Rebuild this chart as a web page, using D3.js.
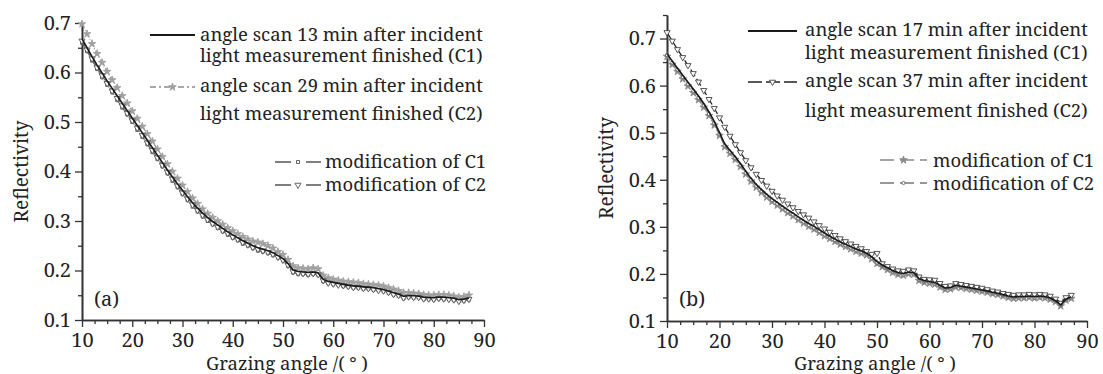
<!DOCTYPE html>
<html>
<head>
<meta charset="utf-8">
<script src="https://cdn.jsdelivr.net/npm/d3@7"></script>
<style>
body { margin: 0; background: #fff; }
svg { display: block; }
text { font-family: "Noto Serif"; fill: #222; }
</style>
</head>
<body>
<svg id="chart" width="1103" height="374"></svg>
<script>
// grazing angles (deg), shared by every series
var angles = [10,11,12,13,14,15,16,17,18,19,20,21,22,23,24,25,26,27,28,29,30,31,32,33,34,35,36,37,38,39,
  40,41,42,43,44,45,46,47,48,49,50,51,52,53,54,55,56,57,58,59,60,61,62,63,64,65,66,67,68,69,
  70,71,72,73,74,75,76,77,78,79,80,81,82,83,84,85,86,87];

// panel (a)
var c1A = [.668,.650,.632,.615,.599,.583,.568,.553,.538,.523,.508,.493,.478,.463,.448,.433,.418,.403,.389,.375,
  .362,.349,.337,.326,.316,.307,.299,.292,.285,.278,.272,.266,.260,.255,.250,.246,.243,.240,.236,.230,
  .224,.214,.201,.198,.197,.196,.197,.195,.182,.178,.176,.174,.172,.170,.169,.168,.167,.166,.165,.163,
  .161,.158,.155,.152,.148,.149,.149,.148,.146,.145,.145,.146,.146,.145,.144,.141,.142,.144];
var c2A = [.698,.678,.658,.638,.620,.602,.585,.569,.553,.538,.522,.507,.491,.476,.461,.445,.430,.415,.400,.386,
  .372,.359,.346,.335,.324,.315,.307,.300,.293,.286,.280,.274,.268,.263,.259,.257,.254,.250,.245,.238,
  .232,.222,.209,.205,.204,.203,.205,.203,.190,.185,.182,.180,.178,.177,.176,.175,.173,.172,.171,.170,
  .168,.165,.162,.159,.155,.155,.154,.153,.151,.150,.150,.151,.151,.150,.148,.146,.147,.150];
var m1A = [.660,.643,.624,.607,.590,.575,.560,.544,.529,.515,.500,.484,.470,.455,.439,.425,.410,.396,.381,.368,
  .354,.342,.329,.319,.309,.300,.293,.286,.279,.272,.266,.261,.254,.250,.245,.240,.238,.235,.231,.226,
  .220,.209,.196,.193,.193,.191,.193,.191,.178,.174,.172,.171,.168,.167,.165,.165,.163,.163,.161,.160,
  .158,.155,.151,.149,.144,.146,.145,.145,.142,.142,.141,.143,.142,.142,.140,.138,.139,.141];
var m2A = [.664,.646,.628,.610,.594,.578,.563,.548,.533,.518,.503,.488,.473,.458,.443,.428,.413,.399,.385,.371,
  .357,.345,.333,.322,.312,.303,.295,.288,.281,.275,.268,.263,.257,.252,.247,.243,.240,.237,.233,.227,
  .221,.211,.198,.195,.194,.193,.194,.192,.180,.175,.173,.171,.170,.168,.166,.166,.164,.164,.162,.160,
  .159,.156,.152,.150,.145,.147,.146,.146,.143,.143,.142,.144,.143,.142,.141,.138,.140,.142];

// panel (b)
var c1B = [.668,.652,.637,.622,.607,.593,.578,.562,.544,.524,.500,.476,.462,.449,.434,.418,.403,.390,.379,.369,
  .360,.352,.344,.336,.329,.321,.314,.307,.301,.294,.287,.280,.274,.268,.263,.258,.253,.249,.244,.236,
  .226,.219,.213,.207,.203,.201,.204,.203,.190,.186,.184,.182,.176,.170,.171,.176,.174,.172,.170,.168,
  .166,.164,.161,.159,.156,.153,.151,.152,.152,.153,.152,.153,.152,.149,.143,.134,.147,.151];
var c2B = [.713,.695,.677,.660,.643,.626,.608,.590,.571,.552,.532,.512,.493,.475,.458,.441,.426,.412,.399,.387,
  .376,.366,.357,.349,.341,.333,.326,.319,.311,.303,.296,.289,.282,.275,.269,.264,.259,.254,.248,.242,
  .244,.222,.216,.211,.207,.206,.209,.207,.194,.189,.188,.187,.180,.174,.175,.180,.178,.176,.174,.172,
  .170,.167,.164,.162,.159,.157,.155,.156,.156,.157,.156,.157,.156,.153,.147,.138,.150,.155];
var m1B = [.662,.645,.630,.614,.599,.585,.570,.554,.536,.516,.494,.470,.456,.443,.428,.412,.397,.384,.373,.363,
  .354,.346,.338,.330,.323,.315,.308,.301,.295,.288,.281,.275,.269,.263,.258,.253,.248,.244,.240,.232,
  .222,.215,.209,.203,.199,.197,.200,.199,.186,.182,.180,.178,.172,.167,.168,.172,.171,.169,.167,.165,
  .163,.161,.158,.156,.153,.150,.148,.149,.149,.150,.149,.150,.149,.146,.141,.132,.144,.148];
var m2B = [.665,.649,.634,.618,.603,.589,.574,.558,.540,.520,.497,.473,.459,.446,.431,.415,.400,.387,.376,.366,
  .357,.349,.341,.333,.326,.318,.311,.304,.298,.291,.284,.278,.272,.266,.261,.256,.251,.247,.242,.234,
  .224,.217,.211,.205,.201,.199,.202,.201,.188,.184,.182,.180,.174,.168,.169,.174,.172,.170,.168,.166,
  .164,.162,.159,.157,.154,.151,.149,.150,.150,.151,.150,.151,.150,.147,.142,.133,.145,.149];

var xMajor = [10,20,30,40,50,60,70,80,90];
var xMinor = [12.5,15,17.5,22.5,25,27.5,32.5,35,37.5,42.5,45,47.5,52.5,55,57.5,62.5,65,67.5,72.5,75,77.5,82.5,85,87.5];
var yMajor = [0.1,0.2,0.3,0.4,0.5,0.6,0.7];
var yMinorA = [0.15,0.25,0.35,0.45,0.55,0.65];
var yMinorB = [0.15,0.25,0.35,0.45,0.55,0.65,0.75];

var legendA = [
  ["angle scan 13 min after incident", "light measurement finished (C1)"],
  ["angle scan 29 min after incident", "light measurement finished (C2)"],
  ["modification of C1"], ["modification of C2"]
];
var legendB = [
  ["angle scan 17 min after incident", "light measurement finished (C1)"],
  ["angle scan 37 min after incident", "light measurement finished (C2)"],
  ["modification of C1"], ["modification of C2"]
];

var FONT = '"Noto Serif"';
var svg = d3.select('#chart');
var fmt = d3.format('.1f');

var STAR = d3.symbol().type(d3.symbolStar).size(18)();
var SQUARE = d3.symbol().type(d3.symbolSquare).size(9)();
var TRI = d3.symbol().type(d3.symbolTriangle).size(16)();
var CIRC = d3.symbol().type(d3.symbolCircle).size(8)();

function drawPanel(o) {
  var x = d3.scaleLinear().domain([10, 90]).range([o.left, o.right]);
  var y = d3.scaleLinear().domain([0.1, o.yMax]).range([o.bottom, o.top]);
  var g = svg.append('g');

  // axes: minor ticks first, then majors with labels
  g.append('g').attr('class', 'ax')
    .attr('transform', 'translate(0,' + o.bottom + ')')
    .call(d3.axisBottom(x).tickValues(xMinor).tickSize(4).tickSizeOuter(0).tickFormat(''));
  g.append('g').attr('class', 'ax')
    .attr('transform', 'translate(0,' + o.bottom + ')')
    .call(d3.axisBottom(x).tickValues(xMajor).tickSize(7).tickSizeOuter(0).tickPadding(6).tickFormat(d3.format('d')));
  g.append('g').attr('class', 'ax')
    .attr('transform', 'translate(' + o.left + ',0)')
    .call(d3.axisLeft(y).tickValues(o.yMinor).tickSize(4).tickSizeOuter(0).tickFormat(''));
  g.append('g').attr('class', 'ax')
    .attr('transform', 'translate(' + o.left + ',0)')
    .call(d3.axisLeft(y).tickValues(yMajor).tickSize(7).tickSizeOuter(0).tickPadding(4).tickFormat(fmt));
  g.selectAll('.ax path').attr('stroke', '#333').attr('stroke-width', 1.6);
  g.selectAll('.ax line').attr('stroke', '#333').attr('stroke-width', 1.3);
  g.selectAll('.ax text').style('font-family', FONT)
    .style('font-size', '20px').attr('fill', '#222');

  // axis titles
  g.append('text')
    .attr('transform', 'translate(' + o.yTitleX + ',' + (o.bottom + o.top) / 2 + ') rotate(-90)')
    .attr('text-anchor', 'middle').style('font-size', '19px').text('Reflectivity');
  g.append('text')
    .attr('x', o.xTitleX).attr('y', 370)
    .attr('text-anchor', 'middle').style('font-size', '18.5px').text('Grazing angle /( \u00b0 )');
  g.append('text').attr('x', o.left + 12).attr('y', 306)
    .style('font-size', '20px').text(o.tag);

  var line = d3.line().x(function (d) { return x(d[0]); }).y(function (d) { return y(d[1]); });

  o.series.forEach(function (s) {
    var pts = angles.map(function (a, i) { return [a, s.values[i]]; });
    g.append('path').datum(pts)
      .attr('d', line)
      .attr('fill', 'none')
      .attr('stroke', s.color)
      .attr('stroke-width', s.width)
      .attr('stroke-dasharray', s.dash || null);
    if (s.marker) {
      g.append('g').selectAll('path').data(pts).enter().append('path')
        .attr('d', s.marker)
        .attr('transform', function (d) {
          return 'translate(' + x(d[0]) + ',' + y(d[1]) + ')' + (s.flip ? ' rotate(180)' : '');
        })
        .attr('fill', s.fill)
        .attr('stroke', s.mstroke)
        .attr('stroke-width', 0.9);
    }
  });

  // legend
  var lg = g.append('g');
  o.legend.forEach(function (entry, i) {
    var L = o.legendPos[i];
    var s = o.series[o.legendSeries[i]];
    lg.append('line')
      .attr('x1', L.x1).attr('x2', L.x2).attr('y1', L.y).attr('y2', L.y)
      .attr('stroke', s.color).attr('stroke-width', s.width === 1.6 ? 1.8 : 1.4)
      .attr('stroke-dasharray', s.legendDash || null);
    if (s.marker) {
      lg.append('path').attr('d', s.marker)
        .attr('transform', 'translate(' + (L.x1 + L.x2) / 2 + ',' + L.y + ')' + (s.flip ? ' rotate(180)' : ''))
        .attr('fill', s.fill).attr('stroke', s.mstroke).attr('stroke-width', 0.9);
    }
    entry.forEach(function (t, k) {
      lg.append('text').attr('x', L.tx).attr('y', L.base[k])
        .style('font-size', '18.5px').text(t);
    });
  });
}

drawPanel({
  left: 82, right: 484, bottom: 320, top: 23, yMax: 0.7, yMinor: yMinorA,
  yTitleX: 28, xTitleX: 287, tag: '(a)',
  series: [
    { values: c2A, color: '#8c8c8c', width: 1.1, dash: '5,2,1,2', marker: STAR, fill: '#a0a0a0', mstroke: '#a0a0a0', legendDash: '6,3,2,3' },
    { values: m1A, color: '#555', width: 1, dash: '6,2,1,2', marker: SQUARE, fill: '#fff', mstroke: '#555', legendDash: '16,6,3,6' },
    { values: m2A, color: '#555', width: 1, dash: '6,2,1,2', marker: TRI, flip: true, fill: '#fff', mstroke: '#555', legendDash: '16,6,3,6' },
    { values: c1A, color: '#1a1a1a', width: 1.6 }
  ],
  legend: legendA,
  legendSeries: [3, 0, 1, 2],
  legendPos: [
    { x1: 150, x2: 195, y: 35, tx: 200, base: [41, 62] },
    { x1: 150, x2: 195, y: 87, tx: 200, base: [92, 120] },
    { x1: 275, x2: 321, y: 162, tx: 325, base: [168] },
    { x1: 275, x2: 321, y: 185, tx: 325, base: [191] }
  ]
});

drawPanel({
  left: 667, right: 1087, bottom: 321, top: 15, yMax: 0.75, yMinor: yMinorB,
  yTitleX: 613, xTitleX: 875, tag: '(b)',
  series: [
    { values: m1B, color: '#888', width: 1, dash: '6,2,1,2', marker: STAR, fill: '#8a8a8a', mstroke: '#8a8a8a', legendDash: '14,6' },
    { values: m2B, color: '#777', width: 1, dash: '6,2,1,2', marker: CIRC, fill: '#fff', mstroke: '#666', legendDash: '14,6' },
    { values: c2B, color: '#222', width: 1.3, dash: '8,3', marker: TRI, flip: true, fill: '#fff', mstroke: '#444', legendDash: '14,4' },
    { values: c1B, color: '#1a1a1a', width: 1.6 }
  ],
  legend: legendB,
  legendSeries: [3, 2, 0, 1],
  legendPos: [
    { x1: 748, x2: 797, y: 31, tx: 805, base: [36, 59] },
    { x1: 748, x2: 797, y: 82, tx: 805, base: [87, 117] },
    { x1: 880, x2: 927, y: 160, tx: 933, base: [167] },
    { x1: 880, x2: 927, y: 183, tx: 933, base: [190] }
  ]
});
</script>
</body>
</html>
